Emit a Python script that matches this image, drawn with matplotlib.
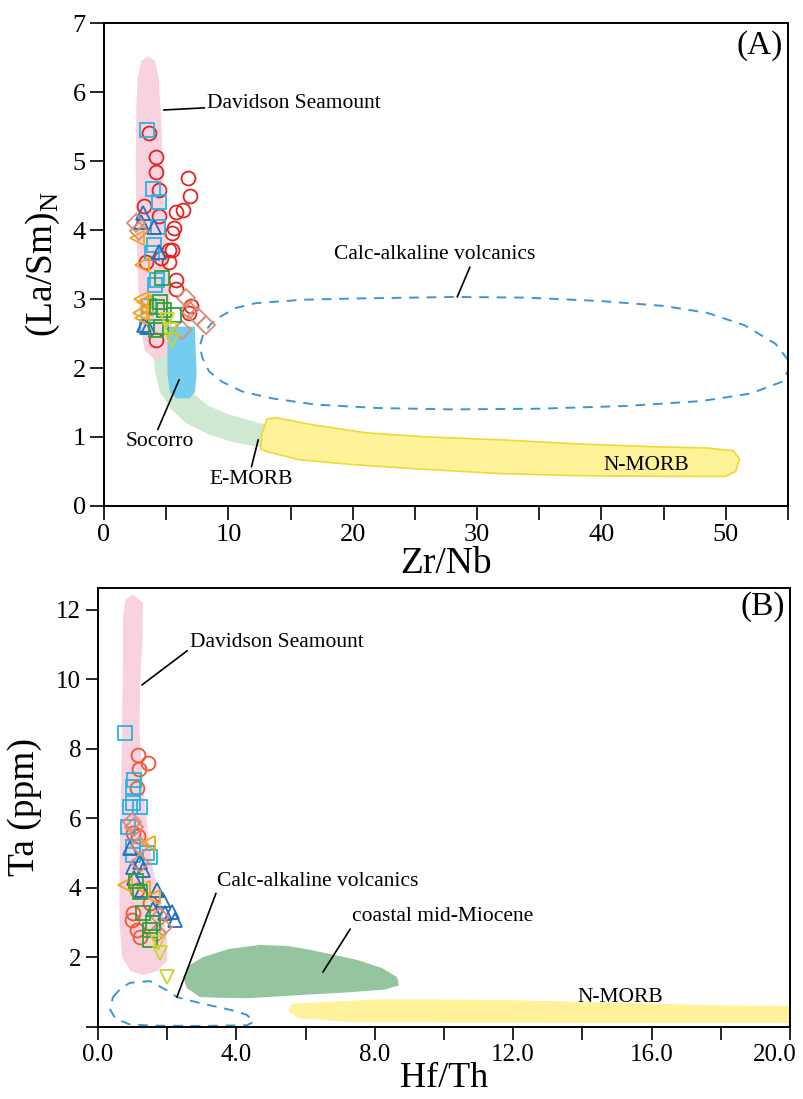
import matplotlib
matplotlib.use("Agg")
import matplotlib.pyplot as plt
from matplotlib.patches import Polygon
from matplotlib.transforms import ScaledTranslation
from matplotlib.ticker import MultipleLocator, FixedLocator, FormatStrFormatter

plt.rcParams['font.family'] = ['Liberation Serif', 'DejaVu Serif']
plt.rcParams['mathtext.fontset'] = 'custom'
plt.rcParams['mathtext.rm'] = 'Liberation Serif'

# ---------------- panel A : (La/Sm)N vs Zr/Nb ----------------
a_red_x = [3.6, 4.2, 4.2, 4.4, 6.76, 6.9, 6.36, 5.8, 3.2, 4.4, 5.6, 5.47, 5.23, 3.38, 5.2, 5.8, 5.8, 7.0, 6.84, 4.2, 5.5, 4.6]
a_red_y = [5.4, 5.06, 4.84, 4.58, 4.75, 4.5, 4.29, 4.26, 4.35, 4.2, 4.03, 3.71, 3.71, 3.54, 3.54, 3.28, 3.15, 2.9, 2.8, 2.4, 3.96, 3.6]
a_cyan_x = [3.45, 3.9, 4.4, 4.3, 4.0, 3.86, 4.27, 4.1, 3.6, 3.46]
a_cyan_y = [5.45, 4.6, 4.4, 4.05, 3.78, 3.67, 3.28, 3.2, 2.9, 2.6]
a_blue_x = [3.1, 3.0, 4.0, 4.43, 3.2, 3.5]
a_blue_y = [4.25, 4.12, 4.05, 3.68, 2.62, 2.6]
a_salmon_x = [2.6, 2.8, 6.6, 6.84, 8.2, 6.3, 7.5]
a_salmon_y = [4.1, 3.98, 3.01, 2.84, 2.62, 2.55, 2.75]
a_orange_x = [2.66, 3.06, 3.2, 3.06, 3.4, 3.0, 2.9]
a_orange_y = [3.88, 3.5, 2.96, 2.72, 2.85, 3.0, 2.8]
a_green_x = [4.67, 4.27, 4.83, 5.64, 4.6, 4.2, 4.5]
a_green_y = [3.3, 2.88, 2.84, 2.77, 2.6, 2.55, 2.95]
a_yellow_x = [5.5, 5.3, 5.1]
a_yellow_y = [2.4, 2.55, 2.7]

# field outlines, panel A
a_davidson = [(3.0, 6.45), (3.5, 6.52), (4.1, 6.45), (4.4, 6.2), (4.6, 5.6), (4.7, 5.0), (4.9, 4.3),
              (5.1, 3.6), (5.3, 3.0), (5.5, 2.5), (5.0, 2.2), (4.2, 2.1), (3.3, 2.25), (2.9, 2.6),
              (2.75, 3.2), (2.6, 4.0), (2.55, 5.0), (2.6, 5.8), (2.7, 6.2)]
a_socorro = [(5.1, 2.6), (7.3, 2.6), (7.45, 1.9), (7.3, 1.65), (6.9, 1.56), (5.8, 1.56), (5.3, 1.65), (5.1, 1.9)]
a_emorb = [(3.9, 2.3), (4.1, 1.95), (4.5, 1.65), (5.3, 1.42), (6.6, 1.2), (8.5, 1.03), (10.3, 0.93),
           (12.5, 0.85), (15.5, 0.8), (18.4, 0.77), (19.8, 0.8), (20.3, 0.9), (20.1, 1.02), (19.5, 1.1),
           (15.7, 1.13), (12.5, 1.2), (10.0, 1.33), (8.4, 1.45), (7.4, 1.6), (6.3, 1.75), (5.6, 2.1), (5.4, 2.4)]
a_nmorb = [(13.1, 1.26), (13.8, 1.28), (17.0, 1.17), (21.1, 1.06), (26.0, 1.0), (31.8, 0.96), (38.0, 0.9),
           (44.0, 0.86), (48.5, 0.84), (50.6, 0.8), (51.1, 0.68), (50.8, 0.5), (50.0, 0.43), (45.0, 0.43),
           (38.0, 0.44), (31.8, 0.47), (25.0, 0.54), (20.0, 0.6), (15.7, 0.67), (13.5, 0.77), (12.6, 0.82), (12.7, 1.05)]
a_calc = [(9.3, 2.74), (10.6, 2.87), (12.2, 2.94), (16, 2.99), (21, 3.01), (28.3, 3.03), (34, 3.02), (40, 2.97),
          (45, 2.9), (48.5, 2.8), (51.5, 2.62), (54, 2.35), (55.3, 2.05), (54.5, 1.8), (52, 1.63), (48, 1.52),
          (42, 1.45), (35, 1.41), (28, 1.4), (22, 1.42), (17, 1.47), (13.5, 1.56), (11.1, 1.66), (9.5, 1.8),
          (8.45, 1.95), (7.9, 2.15), (7.7, 2.32), (8.0, 2.5), (8.6, 2.64)]

# ---------------- panel B : Ta vs Hf/Th ----------------
b_red_x = [1.17, 1.45, 1.19, 1.12, 1.01, 1.16, 1.01, 0.98, 1.13, 1.21, 1.5, 1.13]
b_red_y = [7.83, 7.59, 7.42, 6.87, 5.58, 5.5, 3.28, 3.08, 2.79, 2.59, 3.57, 3.94]
b_cyan_x = [0.78, 1.01, 1.05, 0.92, 1.21, 1.0, 0.87, 1.01, 1.5, 1.42, 1.01]
b_cyan_y = [8.45, 6.9, 7.1, 6.33, 6.33, 6.45, 5.76, 5.18, 4.9, 5.0, 4.95]
b_blue_x = [0.92, 1.01, 1.3, 1.2, 1.27, 1.7, 1.88, 1.94, 2.14, 2.23, 1.6, 1.05]
b_blue_y = [5.15, 4.6, 4.52, 4.75, 3.94, 3.94, 3.65, 3.28, 3.31, 3.08, 3.4, 4.3]
b_green_x = [1.21, 1.3, 1.5, 1.5, 1.6, 1.1]
b_green_y = [3.88, 3.28, 2.79, 2.5, 3.0, 4.2]
b_salmon_x = [0.98, 1.05, 1.21, 1.79, 1.88, 1.7, 1.2]
b_salmon_y = [5.9, 5.75, 4.72, 3.17, 2.88, 2.7, 5.2]
b_orange_x = [1.45, 0.78, 1.6, 1.3]
b_orange_y = [5.3, 4.09, 3.75, 4.0]
b_yellow_x = [1.73, 1.79, 1.99]
b_yellow_y = [2.42, 2.13, 1.45]

b_xticks = [0, 4, 8, 12, 16, 20]
b_yticks = [0, 2, 4, 6, 8, 10, 12]
b_ytick_labels = ['', '2', '4', '6', '8', '10', '12']

b_davidson = [(1.0, 12.45), (1.3, 12.2), (1.28, 11), (1.22, 10), (1.2, 8.5), (1.3, 7), (1.45, 5.5), (1.6, 4.5),
              (1.85, 3.5), (2.0, 2.5), (2.0, 1.9), (1.7, 1.6), (1.3, 1.5), (0.95, 1.6), (0.7, 2.0), (0.62, 3),
              (0.62, 4.5), (0.65, 6), (0.68, 7.5), (0.7, 9), (0.72, 10.5), (0.72, 11.8), (0.8, 12.3)]
b_coastal = [(2.46, 1.41), (2.6, 1.75), (3.03, 2.01), (3.8, 2.25), (4.68, 2.36), (5.5, 2.33), (6.13, 2.22),
             (6.8, 2.08), (7.49, 1.93), (8.2, 1.7), (8.64, 1.44), (8.7, 1.2), (8.3, 1.08), (7.28, 1.0),
             (5.84, 0.92), (4.39, 0.83), (3.5, 0.84), (2.95, 0.86), (2.57, 1.12)]
b_nmorb = [(5.6, 0.66), (6.5, 0.72), (8.2, 0.8), (11.6, 0.78), (15, 0.7), (18, 0.62), (20.2, 0.6),
           (20.2, 0.12), (15, 0.12), (10, 0.13), (7.3, 0.14), (5.8, 0.25), (5.5, 0.45)]
b_calc = [(0.43, 0.86), (0.65, 1.1), (0.92, 1.27), (1.5, 1.32), (2.0, 1.05), (2.28, 0.86), (2.9, 0.7),
          (3.44, 0.58), (4.0, 0.45), (4.3, 0.35), (4.5, 0.15), (4.3, 0.05), (3.0, 0.03), (1.5, 0.04),
          (0.9, 0.08), (0.5, 0.25), (0.35, 0.5)]

RED_A = '#e5231e'
RED_B = '#ee5530'
CYAN = '#27b4e4'
BLUE = '#1f6fbf'
SALMON = '#dc8a72'
ORANGE = '#f7a21b'
GREEN = '#2aa43a'
YELLOW = '#c9d42a'
DASH = '#3b97d3'


def field(ax, pts, face, edge='none', lw=0, ls='-', fill=True, z=1):
    ax.add_patch(Polygon(pts, closed=True, facecolor=face if fill else 'none',
                         edgecolor=edge, linewidth=lw, linestyle=ls, joinstyle='round',
                         zorder=z, clip_on=True))


def pts(ax, x, y, m, c, ms=10):
    ax.plot(x, y, linestyle='none', marker=m, markersize=ms, markerfacecolor='none',
            markeredgecolor=c, markeredgewidth=1.3, zorder=5)


def style(ax, size=19, length=10):
    for s in ax.spines.values():
        s.set_linewidth(1.4)
    ax.tick_params(which='both', direction='out', length=length, width=1.2, labelsize=size, pad=3)


fig = plt.figure(figsize=(8.04, 10.99), dpi=100)

# ---- A ----
ax1 = fig.add_axes([0.1294, 0.5396, 0.8507, 0.4394])
field(ax1, a_emorb, '#cfe8d2')
field(ax1, a_davidson, '#f8d3df', z=2)
field(ax1, a_socorro, '#74cdef', z=3)
field(ax1, a_nmorb, '#fff39a', edge='#f0d838', lw=1.2, z=2)
field(ax1, a_calc, 'none', edge=DASH, lw=1.4, ls=(0, (5, 4)), fill=False, z=2)

pts(ax1, a_red_x, a_red_y, 'o', RED_A)
pts(ax1, a_cyan_x, a_cyan_y, 's', CYAN)
pts(ax1, a_blue_x, a_blue_y, '^', BLUE)
pts(ax1, a_salmon_x, a_salmon_y, 'D', SALMON, ms=9)
pts(ax1, a_orange_x, a_orange_y, '<', ORANGE)
pts(ax1, a_green_x, a_green_y, 's', GREEN)
pts(ax1, a_yellow_x, a_yellow_y, 'v', YELLOW)

ax1.set_xlim(0, 55)
ax1.set_ylim(0, 7)
ax1.xaxis.set_major_locator(MultipleLocator(10))
ax1.xaxis.set_minor_locator(FixedLocator([5, 15, 25, 35, 45, 55]))
ax1.yaxis.set_major_locator(MultipleLocator(1))
style(ax1)
ax1.set_xlabel('Zr/Nb', fontsize=27, labelpad=0)
ax1.set_ylabel(r'(La/Sm)$_\mathrm{N}$', fontsize=27, labelpad=8)

arr = dict(arrowstyle='-', color='black', lw=1.2, shrinkA=0, shrinkB=0)
ax1.annotate('Davidson Seamount', xy=(4.8, 5.74), xytext=(8.3, 5.84), fontsize=15.5,
             va='center', ha='left', arrowprops=arr)
ax1.annotate('Calc-alkaline volcanics', xy=(28.4, 3.03), xytext=(26.6, 3.64), fontsize=15.5,
             va='center', ha='center', arrowprops=dict(arr, relpos=(0.68, 0)))
ax1.annotate('Socorro', xy=(6.04, 1.83), xytext=(4.5, 0.93), fontsize=15.5,
             va='center', ha='center', arrowprops=dict(arr, relpos=(0.45, 1)))
ax1.annotate('E-MORB', xy=(12.4, 0.96), xytext=(11.8, 0.39), fontsize=15.5,
             va='center', ha='center', arrowprops=dict(arr, relpos=(0.5, 1)))
ax1.text(43.6, 0.59, 'N-MORB', fontsize=15.5, ha='center', va='center', zorder=6)
ax1.text(54.6, 6.68, '(A)', fontsize=24, ha='right', va='center')

# ---- B ----
ax2 = fig.add_axes([0.1219, 0.0655, 0.8607, 0.3995])
field(ax2, b_davidson, '#f8d3df', z=2)
field(ax2, b_coastal, '#94c59f', z=2)
field(ax2, b_nmorb, '#fff29a', z=2)
field(ax2, b_calc, 'none', edge=DASH, lw=1.4, ls=(0, (5, 4)), fill=False, z=2)

pts(ax2, b_red_x, b_red_y, 'o', RED_B)
pts(ax2, b_cyan_x, b_cyan_y, 's', CYAN)
pts(ax2, b_blue_x, b_blue_y, '^', BLUE)
pts(ax2, b_salmon_x, b_salmon_y, 'D', SALMON, ms=9)
pts(ax2, b_orange_x, b_orange_y, '<', ORANGE)
pts(ax2, b_green_x, b_green_y, 's', GREEN)
pts(ax2, b_yellow_x, b_yellow_y, 'v', YELLOW)

ax2.set_xlim(0, 20)
ax2.set_ylim(0, 12.63)
ax2.xaxis.set_major_locator(FixedLocator(b_xticks))
ax2.xaxis.set_minor_locator(FixedLocator([2, 6, 10, 14, 18]))
ax2.xaxis.set_major_formatter(FormatStrFormatter('%.1f'))
ax2.yaxis.set_major_locator(FixedLocator(b_yticks))
ax2.set_yticklabels(b_ytick_labels)
style(ax2, size=18, length=9)
ax2.set_xlabel('Hf/Th', fontsize=26, labelpad=-3)
ax2.set_ylabel('Ta (ppm)', fontsize=27, labelpad=10)

# keep the last x label ("20.0") inside the figure edge
fig.canvas.draw()
last = ax2.xaxis.get_major_ticks()[len(b_xticks) - 1].label1
last.set_transform(last.get_transform() + ScaledTranslation(-11 / 72, 0, fig.dpi_scale_trans))

ax2.annotate('Davidson Seamount', xy=(1.27, 9.84), xytext=(2.66, 11.05), fontsize=15.5,
             va='center', ha='left', arrowprops=dict(arr, relpos=(0, 0.2)))
ax2.annotate('Calc-alkaline volcanics', xy=(2.28, 0.86), xytext=(3.44, 4.2), fontsize=15.5,
             va='center', ha='left', arrowprops=dict(arr, relpos=(0, 0)))
ax2.annotate('coastal mid-Miocene', xy=(6.5, 1.58), xytext=(7.34, 3.17), fontsize=15.5,
             va='center', ha='left', arrowprops=dict(arr, relpos=(0, 0)))
ax2.text(15.1, 0.85, 'N-MORB', fontsize=15.5, ha='center', va='center', zorder=6)
ax2.text(19.85, 12.09, '(B)', fontsize=24, ha='right', va='center')

fig.savefig('out.png', dpi=100)
